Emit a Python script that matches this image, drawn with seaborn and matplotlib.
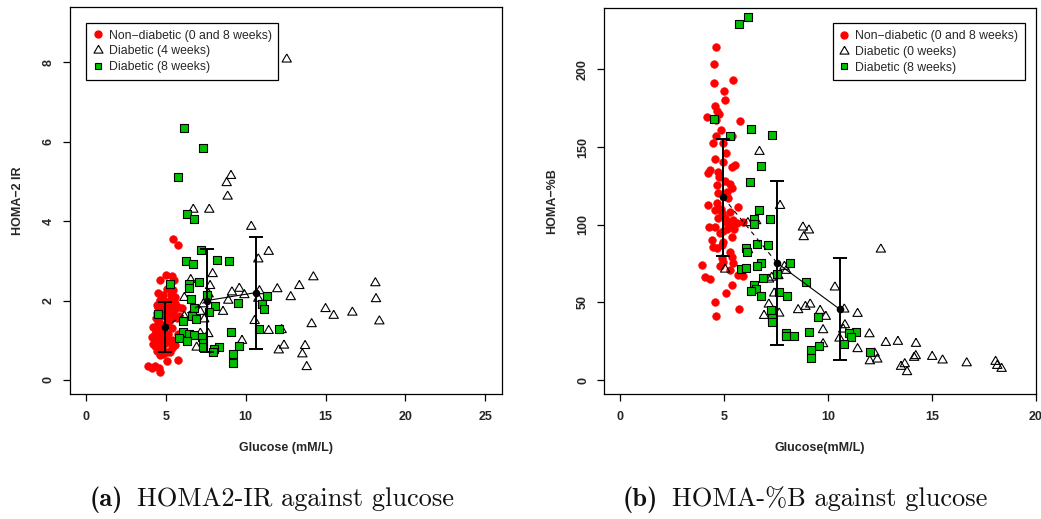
import matplotlib
matplotlib.use("Agg")
import matplotlib.pyplot as plt
import seaborn as sns
import pandas as pd
from matplotlib.lines import Line2D
from matplotlib.offsetbox import TextArea, HPacker, AnnotationBbox

sns.set_theme(style="white")
plt.rcParams["font.family"] = ["Liberation Sans", "DejaVu Sans"]
plt.rcParams["axes.unicode_minus"] = False

RED = "#FF0000"
GREEN = "#00C000"

# ---------------- Panel (a): HOMA2-IR against glucose ----------------
ir_nondiab_glucose = [5.43, 5.78, 5.01, 4.63, 5.36, 5.53, 5.26, 4.49, 5.05, 5.43, 5.57, 4.63, 4.90,
                      5.74, 5.99, 5.32, 4.53, 4.43, 4.84, 5.36, 5.68, 5.15, 4.21, 4.70, 5.36, 4.36,
                      5.15, 5.78, 4.11, 4.74, 4.43, 5.36, 4.21, 5.57, 4.74, 4.43, 5.05, 4.63, 5.74,
                      5.09, 3.90, 4.32, 4.57, 4.11, 4.63, 4.55, 4.80, 5.10, 5.20, 4.60, 4.95, 5.25,
                      4.50, 4.85, 5.00, 4.60, 5.20, 4.90, 4.35, 5.40, 4.55, 4.70, 5.05, 5.50, 4.40,
                      4.65, 5.00, 4.80, 5.25, 4.30, 4.85, 5.30, 4.45, 5.60, 5.85]
ir_nondiab_homa = [3.54, 3.41, 2.64, 2.52, 2.62, 2.52, 2.39, 2.18, 2.28, 2.26, 2.10, 2.01, 1.98,
                   1.84, 1.80, 1.83, 1.84, 1.68, 1.76, 1.64, 1.55, 1.47, 1.34, 1.40, 1.30, 1.22,
                   1.17, 1.17, 1.09, 1.09, 1.01, 1.01, 0.91, 0.88, 0.84, 0.74, 0.71, 0.63, 0.50,
                   0.48, 0.34, 0.35, 0.29, 0.29, 0.21, 1.95, 1.90, 1.92, 2.00, 1.55, 1.60, 1.50,
                   1.45, 1.25, 1.15, 1.15, 0.95, 0.90, 0.85, 0.80, 0.95, 1.75, 1.70, 1.75, 1.55,
                   1.30, 1.05, 0.65, 0.70, 1.15, 2.15, 2.15, 1.90, 1.95, 1.60]

ir_diab4_glucose = [12.57, 9.08, 8.81, 8.87, 6.72, 7.72, 10.35, 11.44, 10.79, 7.93, 14.24, 6.56,
                    18.12, 7.77, 13.36, 11.98, 9.60, 9.14, 10.86, 6.16, 9.92, 7.68, 12.82, 8.91,
                    10.79, 18.16, 7.35, 15.00, 8.58, 16.68, 7.16, 15.51, 6.16, 7.41, 10.56, 18.37,
                    14.13, 11.44, 12.25, 7.16, 7.66, 9.77, 12.40, 13.72, 6.93, 12.07, 13.55, 13.82]
ir_diab4_homa = [8.07, 5.14, 4.96, 4.62, 4.29, 4.29, 3.86, 3.23, 3.04, 2.67, 2.59, 2.52,
                 2.44, 2.37, 2.37, 2.29, 2.30, 2.21, 2.24, 2.07, 2.14, 2.16, 2.09, 2.00,
                 2.05, 2.04, 1.91, 1.79, 1.72, 1.70, 1.72, 1.62, 1.60, 1.53, 1.49, 1.48,
                 1.41, 1.24, 1.26, 1.17, 1.16, 0.99, 0.87, 0.86, 0.82, 0.75, 0.65, 0.33]

ir_diab8_glucose = [6.16, 7.33, 5.74, 6.33, 6.76, 7.20, 6.28, 8.20, 8.98, 6.70, 7.10, 5.28, 6.45,
                    6.45, 7.56, 6.60, 11.34, 9.52, 11.04, 11.13, 8.06, 6.76, 7.68, 4.49, 6.62, 6.89,
                    6.08, 6.06, 9.06, 6.45, 6.76, 7.29, 10.81, 12.07, 5.82, 6.33, 7.31, 7.33, 8.35,
                    8.00, 9.58, 7.97, 9.21, 9.21]
ir_diab8_homa = [6.33, 5.84, 5.10, 4.18, 4.05, 3.27, 2.99, 3.02, 3.00, 2.92, 2.47, 2.42, 2.42,
                 2.31, 2.13, 2.04, 2.12, 1.95, 1.91, 1.79, 1.85, 1.82, 1.72, 1.65, 1.62, 1.53,
                 1.49, 1.22, 1.22, 1.15, 1.12, 1.09, 1.29, 1.28, 1.06, 0.99, 0.94, 0.84, 0.84,
                 0.78, 0.86, 0.71, 0.66, 0.44]

ir_mean_glucose = [4.93, 7.58, 10.65]
ir_mean = [1.33, 2.00, 2.20]
ir_low = [0.70, 0.70, 0.79]
ir_high = [1.97, 3.30, 3.59]

# ---------------- Panel (b): HOMA-%B against glucose ----------------
b_nondiab_glucose = [4.62, 4.51, 5.44, 4.51, 5.00, 5.07, 4.59, 4.65, 4.75, 4.17, 4.64, 5.77, 4.84,
                     4.62, 5.40, 4.49, 4.97, 5.09, 4.57, 4.97, 5.52, 5.40, 4.33, 4.25, 4.73, 4.78,
                     4.65, 5.29, 5.37, 5.13, 4.73, 4.25, 4.68, 5.66, 4.57, 4.89, 5.45, 5.26, 5.13,
                     5.37, 5.62, 4.30, 4.57, 5.16, 5.90, 4.81, 4.41, 4.97, 4.89, 4.65, 4.49, 5.29,
                     5.37, 4.89, 4.97, 5.45, 3.93, 4.81, 5.29, 4.09, 4.33, 5.69, 5.90, 5.37, 5.10,
                     4.57, 5.74, 4.62, 5.05, 5.20, 4.85, 5.30, 5.05, 5.50, 5.40, 4.70, 4.95]
b_nondiab_homa = [214.2, 203.5, 193.2, 191.0, 186.3, 180.3, 176.4, 173.4, 171.3, 169.5, 167.4,
                  167.0, 161.0, 157.1, 157.1, 152.4, 152.8, 146.0, 142.1, 140.6, 138.4, 137.0,
                  135.2, 133.1, 134.1, 130.9, 125.6, 126.2, 123.4, 121.3, 120.2, 112.7, 113.7,
                  111.6, 109.5, 107.3, 103.0, 101.9, 100.9, 99.8, 101.3, 98.7, 98.7, 97.0, 101.9,
                  94.5, 90.1, 89.0, 86.9, 84.8, 85.4, 82.6, 79.4, 78.3, 76.2, 75.1, 74.0, 73.4,
                  70.8, 66.1, 64.8, 67.6, 67.0, 61.2, 55.8, 50.4, 45.5, 41.2, 128.0, 117.0,
                  110.0, 108.0, 104.0, 97.0, 92.0, 104.0, 96.0]

b_diab0_glucose = [12.55, 6.71, 7.70, 8.80, 9.09, 8.84, 6.15, 6.55, 6.16, 5.06, 7.30, 7.62, 7.91,
                   8.00, 7.17, 10.34, 7.42, 7.16, 9.15, 8.92, 8.57, 9.63, 10.79, 11.43, 7.66, 6.93,
                   9.90, 10.82, 9.77, 10.74, 12.00, 10.56, 12.79, 13.37, 14.24, 9.77, 11.43, 12.25,
                   15.02, 14.23, 14.15, 15.52, 12.38, 12.02, 16.68, 18.07, 18.15, 18.36, 13.70,
                   13.52, 13.81]
b_diab0_homa = [84.1, 147.0, 112.2, 98.3, 96.4, 92.1, 101.1, 102.4, 83.7, 71.2, 66.0, 67.0, 73.0,
                70.4, 64.8, 59.7, 55.8, 48.7, 48.7, 47.2, 45.1, 44.6, 45.5, 42.7, 42.9, 41.4,
                40.8, 35.4, 32.2, 32.6, 29.6, 26.8, 24.0, 24.7, 23.4, 23.2, 20.0, 17.2, 15.0,
                15.5, 14.4, 12.7, 13.3, 12.2, 10.9, 11.8, 9.2, 7.3, 10.3, 8.6, 5.2]

b_diab8_glucose = [6.16, 5.73, 4.53, 5.28, 6.32, 7.32, 6.77, 6.26, 6.71, 7.21, 6.45, 6.45, 6.58,
                   7.10, 6.08, 6.10, 8.19, 6.77, 6.59, 5.83, 6.07, 7.54, 6.88, 8.96, 6.45, 6.53,
                   6.32, 7.67, 6.77, 8.03, 7.27, 9.52, 7.30, 7.30, 9.09, 7.98, 7.98, 8.35, 11.34,
                   11.00, 11.12, 10.76, 9.57, 9.20, 12.05, 9.20]
b_diab8_homa = [233.9, 229.2, 168.2, 156.9, 161.6, 157.7, 137.8, 127.7, 109.4, 103.4, 103.9,
                100.6, 87.8, 86.7, 85.0, 82.6, 75.5, 75.3, 73.6, 71.5, 72.3, 68.2, 65.5, 63.1,
                61.2, 58.8, 57.3, 56.9, 54.1, 54.3, 45.1, 40.3, 40.1, 37.6, 31.1, 30.3, 28.3,
                28.3, 30.7, 30.0, 27.9, 23.2, 21.9, 19.5, 18.2, 14.4]

b_mean_glucose = [4.96, 7.56, 10.58]
b_mean = [117.6, 75.3, 45.5]
b_low = [80.0, 22.5, 12.7]
b_high = [155.2, 128.1, 78.5]

# equilateral open triangle, like an R "pch = 2" symbol
TRI = [(0.0, 1.0), (-0.866, -0.5), (0.866, -0.5), (0.0, 1.0)]
FS = 9

fig = plt.figure(figsize=(10.41, 5.19), dpi=100)
fig.patch.set_facecolor("white")
ax_a = fig.add_axes([70 / 1041, 1 - 394.3 / 519, 431.7 / 1041, 387.0 / 519])
ax_b = fig.add_axes([604.3 / 1041, 1 - 394.3 / 519, 431.4 / 1041, 386.3 / 519])


def draw_panel(ax, nd_x, nd_y, d1_x, d1_y, d2_x, d2_y, mx, my, lo, hi):
    sns.scatterplot(x=nd_x, y=nd_y, ax=ax, color=RED, marker="o", s=32,
                    edgecolor=RED, linewidth=0.3, legend=False, zorder=2)
    sns.scatterplot(x=d1_x, y=d1_y, ax=ax, marker=TRI, s=60, facecolor="none",
                    edgecolor="black", linewidth=0.8, legend=False, zorder=3)
    sns.scatterplot(x=d2_x, y=d2_y, ax=ax, marker="s", s=26, color=GREEN,
                    edgecolor="black", linewidth=0.8, legend=False, zorder=4)
    # connecting lines between group means: dashed, then solid
    ax.plot(mx[:2], my[:2], color="black", lw=0.8, ls=(0, (4, 4)), zorder=5)
    ax.plot(mx[1:], my[1:], color="black", lw=0.8, ls="-", zorder=5)
    yerr = [[m - l for m, l in zip(my, lo)], [h - m for m, h in zip(my, hi)]]
    ax.errorbar(mx, my, yerr=yerr, fmt="none", ecolor="black", elinewidth=1.4,
                capsize=4.8, capthick=1.4, zorder=6)
    sns.scatterplot(x=mx, y=my, ax=ax, color="black", s=30, edgecolor="black",
                    linewidth=0, legend=False, zorder=7)


draw_panel(ax_a, ir_nondiab_glucose, ir_nondiab_homa, ir_diab4_glucose, ir_diab4_homa,
           ir_diab8_glucose, ir_diab8_homa, ir_mean_glucose, ir_mean, ir_low, ir_high)
draw_panel(ax_b, b_nondiab_glucose, b_nondiab_homa, b_diab0_glucose, b_diab0_homa,
           b_diab8_glucose, b_diab8_homa, b_mean_glucose, b_mean, b_low, b_high)

ax_a.set_xlim(-1.0, 26.03)
ax_a.set_ylim(-0.36, 9.38)
ax_a.set_xticks([0, 5, 10, 15, 20, 25])
ax_a.set_yticks([0, 2, 4, 6, 8])

ax_b.set_xlim(-0.756, 20.0)
ax_b.set_ylim(-9.2, 239.5)
ax_b.set_xticks([0, 5, 10, 15, 20])
ax_b.set_yticks([0, 50, 100, 150, 200])

for ax, xl, yl in [(ax_a, "Glucose (mM/L)", "HOMA\u22122 IR"),
                   (ax_b, "Glucose(mM/L)", "HOMA\u2212%B")]:
    for sp in ax.spines.values():
        sp.set_visible(True)
        sp.set_color("black")
        sp.set_linewidth(0.9)
    ax.tick_params(axis="both", which="major", direction="out", length=5, width=0.9,
                   color="black", labelsize=FS, bottom=True, left=True)
    ax.tick_params(axis="x", pad=7)
    ax.tick_params(axis="y", pad=6)
    for lab in ax.get_xticklabels() + ax.get_yticklabels():
        lab.set_fontweight("bold")
    for lab in ax.get_yticklabels():
        lab.set_rotation(90)
        lab.set_va("center")
    ax.set_xlabel(xl, fontsize=FS, fontweight="bold", va="center")
    ax.set_ylabel(yl, fontsize=FS, fontweight="bold", va="center")
    ax.xaxis.set_label_coords(0.5, -0.138)
    ax.yaxis.set_label_coords(-0.12, 0.5)
    ax.grid(False)
    ax.set_facecolor("white")


def legend_handles(mid_label):
    return [
        Line2D([], [], ls="none", marker="o", ms=5, color=RED, mec=RED,
               label="Non\u2212diabetic (0 and 8 weeks)"),
        Line2D([], [], ls="none", marker=TRI, ms=7.5, mfc="none", mec="black", mew=0.8,
               label=mid_label),
        Line2D([], [], ls="none", marker="s", ms=4.8, mfc=GREEN, mec="black", mew=0.8,
               label="Diabetic (8 weeks)"),
    ]


leg_kw = dict(fontsize=8.8, frameon=True, fancybox=False, shadow=False, borderaxespad=0,
              handlelength=0.8, handletextpad=0.5, labelspacing=0.3, borderpad=0.55,
              framealpha=1)
la = ax_a.legend(handles=legend_handles("Diabetic (4 weeks)"), loc="upper left",
                 bbox_to_anchor=(0.037, 0.960), **leg_kw)
lb = ax_b.legend(handles=legend_handles("Diabetic (0 weeks)"), loc="upper right",
                 bbox_to_anchor=(0.975, 0.960), **leg_kw)
for lg in (la, lb):
    lg.get_frame().set_edgecolor("black")
    lg.get_frame().set_linewidth(0.9)
    lg.get_frame().set_boxstyle("square", pad=0)
    lg.set_zorder(10)


def caption(tag, text, x_px, y_px):
    pieces = HPacker(children=[
        TextArea(tag, textprops=dict(family="cmb10", size=19, color="#111111")),
        TextArea(text, textprops=dict(family="cmr10", size=19, color="#111111")),
    ], align="baseline", pad=0, sep=10)
    ab = AnnotationBbox(pieces, (x_px / 1041, 1 - y_px / 519), xycoords="figure fraction",
                        frameon=False, box_alignment=(0.5, 0.5), pad=0)
    fig.add_artist(ab)


caption("(a)", "HOMA2-IR against glucose", 272, 500)
caption("(b)", "HOMA-%B against glucose", 805, 500)

fig.savefig("out.png", dpi=100, facecolor="white")
